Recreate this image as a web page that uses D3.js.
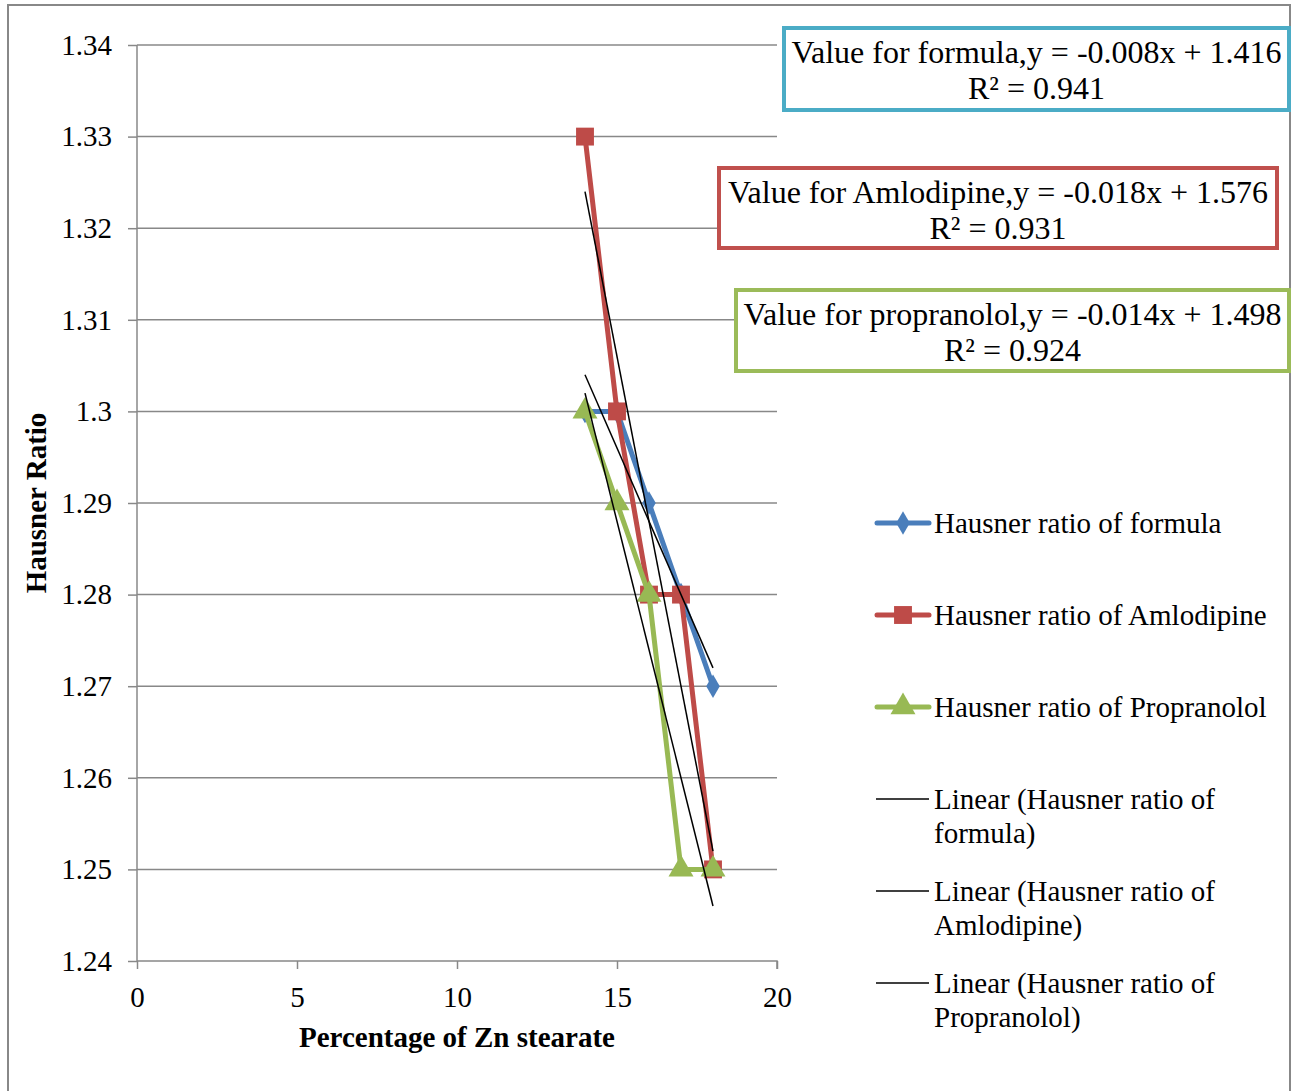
<!DOCTYPE html>
<html>
<head>
<meta charset="utf-8">
<script src="https://cdn.jsdelivr.net/npm/d3@7"></script>
<style>
  body { margin: 0; background: #fff; }
  svg { display: block; font-family: "Liberation Serif", "Times New Roman", serif; }
</style>
</head>
<body>
<script>
// values
var znPercent = [14, 15, 16, 17, 18];
var formulaHR = [1.30, 1.30, 1.29, 1.28, 1.27];
var amlodipineHR = [1.33, 1.30, 1.28, 1.28, 1.25];
var propranololHR = [1.30, 1.29, 1.28, 1.25, 1.25];

// trend line equations as printed in the boxes
var trendSlopes = [-0.008, -0.018, -0.014];
var trendIntercepts = [1.416, 1.576, 1.498];
var trendR2 = ["0.941", "0.931", "0.924"];
var eqNames = ["formula", "Amlodipine", "propranolol"];

var seriesNames = ["Hausner ratio of formula", "Hausner ratio of Amlodipine", "Hausner ratio of Propranolol"];
var linearNames = [["Linear (Hausner ratio of", "formula)"],
                   ["Linear (Hausner ratio of", "Amlodipine)"],
                   ["Linear (Hausner ratio of", "Propranolol)"]];
var xTicks = [0, 5, 10, 15, 20];
var yTicks = [1.24, 1.25, 1.26, 1.27, 1.28, 1.29, 1.30, 1.31, 1.32, 1.33, 1.34];

var colors = ["#4a7ebb", "#be4b48", "#98b954"];
var boxColors = ["#4bacc6", "#c0504d", "#9bbb59"];
var shapes = [d3.symbolDiamond, d3.symbolSquare, d3.symbolTriangle];
var shapeSizes = [160, 320, 270];

var W = 1298, H = 1091;
var svg = d3.select("body").append("svg").attr("width", W).attr("height", H);

// outer chart frame
svg.append("rect").attr("x", 8).attr("y", 5).attr("width", 1282).attr("height", 1100)
   .attr("fill", "#fff").attr("stroke", "#888").attr("stroke-width", 2);

var x = d3.scaleLinear().domain([0, 20]).range([137, 777]);
var y = d3.scaleLinear().domain([1.24, 1.34]).range([961, 45]);

// gridlines
svg.append("g").selectAll("line").data(yTicks.slice(1)).enter().append("line")
   .attr("x1", x(0)).attr("x2", x(20))
   .attr("y1", d => y(d)).attr("y2", d => y(d))
   .attr("stroke", "#888").attr("stroke-width", 1.5);

var yAxis = svg.append("g").attr("transform", "translate(" + x(0) + ",0)")
   .call(d3.axisLeft(y).tickValues(yTicks).tickSize(9).tickPadding(16)
     .tickFormat(d => d3.format(".2f")(d).replace(/0$/, "")));
var xAxis = svg.append("g").attr("transform", "translate(0," + y(1.24) + ")")
   .call(d3.axisBottom(x).tickValues(xTicks).tickSize(8).tickPadding(17));

[yAxis, xAxis].forEach(function(a) {
  a.attr("font-family", null).attr("font-size", null);
  a.select(".domain").attr("stroke", "#888").attr("stroke-width", 1.5);
  a.selectAll(".tick line").attr("stroke", "#888").attr("stroke-width", 1.5);
  a.selectAll("text").attr("font-size", 29).attr("fill", "#000");
});
yAxis.select(".domain").attr("d", "M0," + y(1.34) + "V" + y(1.24));
xAxis.select(".domain").attr("d", "M" + x(0) + ",0H" + x(20) + "V8");

// axis titles
svg.append("text").attr("x", x(10)).attr("y", 1047).attr("text-anchor", "middle")
   .attr("font-size", 29).attr("font-weight", "bold").text("Percentage of Zn stearate");
svg.append("text").attr("transform", "translate(46,503) rotate(-90)").attr("text-anchor", "middle")
   .attr("font-size", 29).attr("font-weight", "bold").text("Hausner Ratio");

// series
var series = [formulaHR, amlodipineHR, propranololHR];
var line = d3.line().x((d, i) => x(znPercent[i])).y(d => y(d));
series.forEach(function(vals, s) {
  svg.append("path").datum(vals).attr("d", line)
     .attr("fill", "none").attr("stroke", colors[s]).attr("stroke-width", 5)
     .attr("stroke-linejoin", "round");
  svg.append("g").selectAll("path").data(vals).enter().append("path")
     .attr("transform", (d, i) => "translate(" + x(znPercent[i]) + "," + y(d) + ")")
     .attr("d", d3.symbol().type(shapes[s]).size(shapeSizes[s]))
     .attr("fill", colors[s]);
});

// trend lines
trendSlopes.forEach(function(m, k) {
  var x0 = znPercent[0], x1 = znPercent[znPercent.length - 1];
  svg.append("line")
     .attr("x1", x(x0)).attr("y1", y(m * x0 + trendIntercepts[k]))
     .attr("x2", x(x1)).attr("y2", y(m * x1 + trendIntercepts[k]))
     .attr("stroke", "#000").attr("stroke-width", 1.5);
});

// equation boxes
var boxes = [{x: 784, y: 28, w: 505, h: 82}, {x: 719, y: 168, w: 558, h: 80}, {x: 736, y: 290, w: 553, h: 81}];
boxes.forEach(function(b, k) {
  var g = svg.append("g");
  g.append("rect").attr("x", b.x).attr("y", b.y).attr("width", b.w).attr("height", b.h)
   .attr("fill", "#fff").attr("stroke", boxColors[k]).attr("stroke-width", 4);
  g.append("text").attr("x", b.x + b.w / 2).attr("y", b.y + 35).attr("text-anchor", "middle")
   .attr("font-size", 32)
   .text("Value for " + eqNames[k] + ",y = " + trendSlopes[k].toFixed(3) + "x + " + trendIntercepts[k].toFixed(3));
  g.append("text").attr("x", b.x + b.w / 2).attr("y", b.y + 71).attr("text-anchor", "middle")
   .attr("font-size", 32).text("R\u00b2 = " + trendR2[k]);
});

// legend
var legend = svg.append("g");
seriesNames.forEach(function(name, s) {
  var ly = 523 + s * 92;
  legend.append("line").attr("x1", 877).attr("x2", 929).attr("y1", ly).attr("y2", ly)
     .attr("stroke", colors[s]).attr("stroke-width", 5).attr("stroke-linecap", "round");
  legend.append("path").attr("transform", "translate(903," + ly + ")")
     .attr("d", d3.symbol().type(shapes[s]).size(shapeSizes[s]))
     .attr("fill", colors[s]);
  legend.append("text").attr("x", 934).attr("y", ly + 10).attr("font-size", 29).text(name);
});
linearNames.forEach(function(lines, k) {
  var ly = 799 + k * 92;
  legend.append("line").attr("x1", 876).attr("x2", 929).attr("y1", ly).attr("y2", ly)
     .attr("stroke", "#000").attr("stroke-width", 1.5);
  lines.forEach(function(t, j) {
    legend.append("text").attr("x", 934).attr("y", ly + 10 + j * 34).attr("font-size", 29).text(t);
  });
});
</script>
</body>
</html>
